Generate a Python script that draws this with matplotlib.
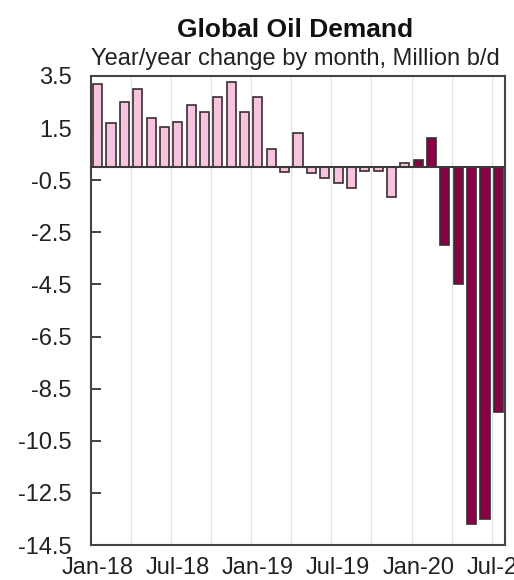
import numpy as np
import matplotlib
matplotlib.use('Agg')
import matplotlib.pyplot as plt

plt.rcParams['font.family'] = ['Liberation Sans', 'DejaVu Sans']

# monthly y/y change, Jan-18 .. Jul-20 (million b/d)
months = ['Jan-18', 'Feb-18', 'Mar-18', 'Apr-18', 'May-18', 'Jun-18',
          'Jul-18', 'Aug-18', 'Sep-18', 'Oct-18', 'Nov-18', 'Dec-18',
          'Jan-19', 'Feb-19', 'Mar-19', 'Apr-19', 'May-19', 'Jun-19',
          'Jul-19', 'Aug-19', 'Sep-19', 'Oct-19', 'Nov-19', 'Dec-19',
          'Jan-20', 'Feb-20', 'Mar-20', 'Apr-20', 'May-20', 'Jun-20', 'Jul-20']
change = [3.18, 1.68, 2.51, 2.99, 1.88, 1.53,
          1.72, 2.39, 2.11, 2.71, 3.26, 2.13,
          2.71, 0.70, -0.17, 1.30, -0.23, -0.43,
          -0.62, -0.81, -0.14, -0.15, -1.13, 0.17,
          0.28, 1.13, -2.99, -4.48, -13.69, -13.51, -9.38]
recent = [False] * 24 + [True] * 7

tick_pos = [0, 6, 12, 18, 24, 30]
tick_labels = ['Jan-18', 'Jul-18', 'Jan-19', 'Jul-19', 'Jan-20', 'Jul-20']
y_ticks = [3.5, 1.5, -0.5, -2.5, -4.5, -6.5, -8.5, -10.5, -12.5, -14.5]

pink = '#f7c4e0'
maroon = '#8a0045'
edge = '#3b2b33'

fig = plt.figure(figsize=(5.14, 5.80), dpi=100)
ax = fig.add_axes([91 / 514, 1 - 545 / 580, 414 / 514, 469 / 580])

x = np.arange(len(months))
colors = [maroon if r else pink for r in recent]
ax.bar(x, change, width=0.68, color=colors, edgecolor=edge, linewidth=1.2, zorder=3)

ax.axhline(0, color='#3a3a3a', linewidth=1.5, zorder=4)
for g in np.arange(2.5, len(months), 3):
    ax.axvline(g, color='#e2e2e2', linewidth=0.9, zorder=1)

ax.set_xlim(-0.5, len(months) - 0.5)
ax.set_ylim(-14.5, 3.5)
ax.set_yticks(y_ticks)
ax.set_yticklabels([f'{v:.1f}' for v in y_ticks], fontsize=17, color='#222222')
ax.set_xticks(tick_pos)
ax.set_xticklabels(tick_labels, fontsize=17, color='#222222')
ax.tick_params(axis='y', direction='in', length=7, width=1.3, color='#333333', pad=14)
ax.tick_params(axis='x', length=0, pad=9)
for s in ax.spines.values():
    s.set_color('#444444')
    s.set_linewidth(1.5)

fig.text(0.575, 1 - 30 / 580, 'Global Oil Demand', ha='center', va='center',
         fontsize=19, fontweight='bold', color='#111111')
fig.text(0.575, 1 - 59 / 580, 'Year/year change by month, Million b/d', ha='center',
         va='center', fontsize=17, color='#222222')

fig.savefig('out.png', dpi=100)
